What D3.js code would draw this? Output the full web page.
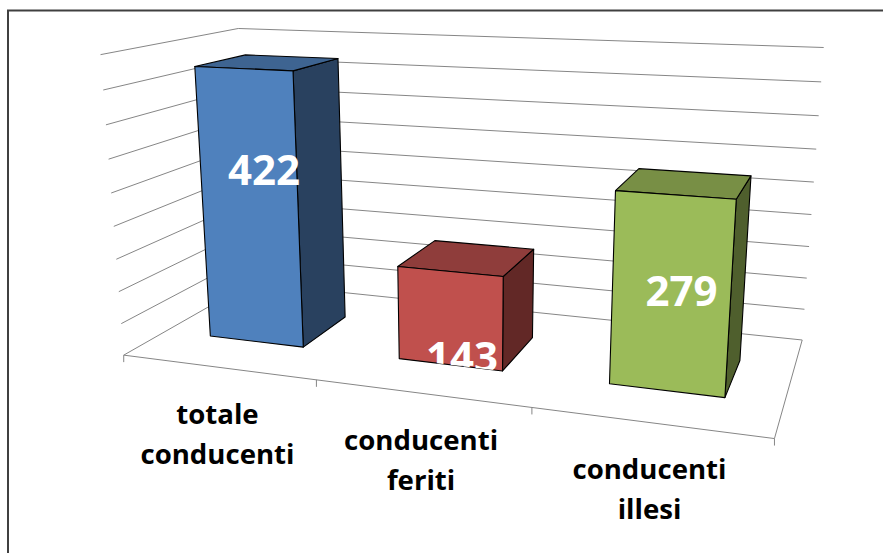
<!DOCTYPE html>
<html><head><meta charset="utf-8">
<script src="https://cdn.jsdelivr.net/npm/d3@7"></script>
<style>html,body{margin:0;padding:0;background:#fff}svg{display:block}</style>
</head><body><div id="c"></div>
<script>
// --- data ---
const categories = ["totale conducenti", "conducenti feriti", "conducenti illesi"];
const categoryLines = [["totale", "conducenti"], ["conducenti", "feriti"], ["conducenti", "illesi"]];
const values = [422, 143, 279];
const valueTicks = [0, 50, 100, 150, 200, 250, 300, 350, 400, 450];
const frontColors = ["#4F81BD", "#C0504D", "#9BBB59"];
const topColors = ["#3E6491", "#8F3D3B", "#788F45"];
const sideColors = ["#29415F", "#622826", "#4F5F2D"];

// --- layout ---
const W = 883, H = 553;
const labelNudge = [[14, -41], [12, 37], [11, -5]];
// perspective calibration: model (u, v, w) -> pixel (x, y), from the frame of the reference
const frameRefs = [
  [0,0,0,123.5,355],[1/3,0,0,317,380],[2/3,0,0,531.7,407.7],[1,0,0,774,439],
  [1,0,1,802,339],[1,1,1,823,47],[0,1,1,238,29],[0,1,0,101,54],
  [0,5/9,0,111,193],[1,5/9,1,815,183]
];
function solve(A, b) {
  const n = b.length, M = A.map((r, i) => [...r, b[i]]);
  for (let c = 0; c < n; c++) {
    let p = c; for (let r = c + 1; r < n; r++) if (Math.abs(M[r][c]) > Math.abs(M[p][c])) p = r;
    [M[c], M[p]] = [M[p], M[c]];
    for (let r = 0; r < n; r++) if (r !== c) {
      const f = M[r][c] / M[c][c];
      for (let k = c; k <= n; k++) M[r][k] -= f * M[c][k];
    }
  }
  return M.map((r, i) => r[n] / r[i]);
}
function fitProjection(refs) {
  const rows = [], rhs = [];
  refs.forEach(([u, v, w, x, y]) => {
    const X = x / 1000, Y = y / 1000;
    rows.push([u, v, w, 1, 0, 0, 0, 0, -X*u, -X*v, -X*w]); rhs.push(X);
    rows.push([0, 0, 0, 0, u, v, w, 1, -Y*u, -Y*v, -Y*w]); rhs.push(Y);
  });
  const n = 11;
  const ATA = d3.range(n).map(i => d3.range(n).map(j => d3.sum(rows, r => r[i] * r[j])));
  const ATb = d3.range(n).map(i => d3.sum(rows, (r, k) => r[i] * rhs[k]));
  return solve(ATA, ATb);
}
const P = fitProjection(frameRefs);
const project = (u, v, w) => {
  const d = P[8]*u + P[9]*v + P[10]*w + 1;
  return [1000 * (P[0]*u + P[1]*v + P[2]*w + P[3]) / d,
          1000 * (P[4]*u + P[5]*v + P[6]*w + P[7]) / d];
};

// --- scales ---
const gap = 0.495;
const xBand = d3.scaleBand().domain(categories).range([0, 1]).paddingInner(gap).paddingOuter(gap / 2);
const xCat = d3.scaleBand().domain(categories).range([0, 1]);
const yScale = d3.scaleLinear().domain([0, 450]).range([0, 1]);
const depth = d3.scaleLinear().domain([0, 1]).range([0.30, 0.69]);

const svg = d3.select("#c").append("svg").attr("width", W).attr("height", H);
const line = d3.line();
const poly = pts => line(pts) + "Z";

// border
svg.append("path").attr("d", line([[8, H], [8, 10.5], [W, 10.5]]))
  .attr("fill", "none").attr("stroke", "#404040").attr("stroke-width", 2);

// walls and floor
const grid = svg.append("g").attr("fill", "none").attr("stroke", "#868686").attr("stroke-width", 1);
valueTicks.forEach(t => {
  const v = yScale(t);
  grid.append("path").attr("d", line([project(0, v, 0), project(0, v, 1), project(1, v, 1)]));
});
grid.append("path").attr("d", line([project(0, 0, 0), project(1, 0, 0), project(1, 0, 1)]));
[...categories.map(c => xCat(c)), 1].forEach(u => {
  const [x, y] = project(u, 0, 0);
  grid.append("line").attr("x1", x).attr("x2", x).attr("y1", y).attr("y2", y + 7);
});

// bars
const defs = svg.append("defs");
const bars = svg.append("g").attr("stroke", "#000").attr("stroke-width", 1.1).attr("stroke-linejoin", "round");
categories.forEach((c, i) => {
  const u0 = xBand(c), u1 = u0 + xBand.bandwidth();
  const v = yScale(values[i]), w0 = depth(0), w1 = depth(1);
  bars.append("path").attr("fill", sideColors[i]).attr("d", poly([project(u1,0,w0), project(u1,0,w1), project(u1,v,w1), project(u1,v,w0)]));
  bars.append("path").attr("fill", topColors[i]).attr("d", poly([project(u0,v,w0), project(u1,v,w0), project(u1,v,w1), project(u0,v,w1)]));
  bars.append("path").attr("fill", frontColors[i]).attr("d", poly([project(u0,0,w0), project(u1,0,w0), project(u1,v,w0), project(u0,v,w0)]));
  // value labels stop at the bar's lower front edge
  const a = project(u0, 0, w0), b = project(u1, 0, w0);
  const s = (b[1] - a[1]) / (b[0] - a[0]);
  defs.append("clipPath").attr("id", "clip" + i).append("path")
    .attr("d", poly([[a[0]-60, a[1]-60*s], [b[0]+60, b[1]+60*s], [b[0]+60, 0], [a[0]-60, 0]]));
});

// value labels
categories.forEach((c, i) => {
  const uc = xBand(c) + xBand.bandwidth() / 2;
  const [x, y] = project(uc, yScale(values[i]) / 2, depth(0));
  svg.append("g").attr("clip-path", `url(#clip${i})`).append("text")
    .attr("x", x + labelNudge[i][0]).attr("y", y + labelNudge[i][1])
    .attr("text-anchor", "middle").attr("dominant-baseline", "central")
    .attr("font-family", "'Open Sans'").attr("font-weight", 700).attr("font-size", 42)
    .attr("fill", "#fff").text(values[i]);
});

// category labels
categories.forEach((c, i) => {
  const [x, y] = project(xCat(c) + xCat.bandwidth() / 2, 0, 0);
  const t = svg.append("text").attr("text-anchor", "middle")
    .attr("font-family", "'Open Sans'").attr("font-weight", 700).attr("font-size", 27.6).attr("fill", "#000");
  categoryLines[i].forEach((s, k) => t.append("tspan")
    .attr("x", x).attr("y", y + 45.5 + k * 40).attr("dominant-baseline", "central").text(s));
});
</script></body></html>
